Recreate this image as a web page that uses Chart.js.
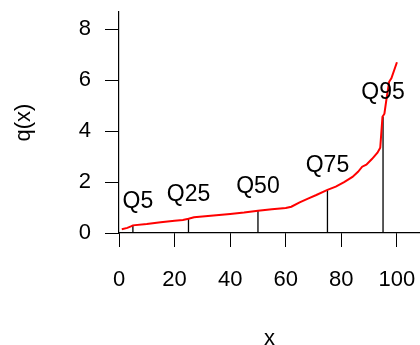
<!DOCTYPE html>
<html>
<head>
<meta charset="utf-8">
<script src="https://cdn.jsdelivr.net/npm/chart.js@4"></script>
<style>
  body { margin: 0; background: #fff; }
  #wrap { width: 420px; height: 345px; }
</style>
</head>
<body>
<div id="wrap"><canvas id="quantChart"></canvas></div>
<script>
// quantile curve q(x), x in percent
const xs = [1, 3, 4.5, 5, 10, 15, 20, 23, 25, 27, 30, 35, 40, 45, 50, 55, 60, 62, 65, 68, 71, 75, 78, 81, 84, 86, 87.5, 89, 91, 93, 94, 94.8, 95.5, 96.3, 97.2, 98, 100];
const qs = [0.15, 0.2, 0.27, 0.3, 0.35, 0.42, 0.48, 0.51, 0.56, 0.62, 0.65, 0.7, 0.75, 0.8, 0.87, 0.93, 0.98, 1.03, 1.2, 1.35, 1.49, 1.69, 1.82, 2.0, 2.2, 2.4, 2.6, 2.68, 2.9, 3.15, 3.35, 4.56, 4.68, 5.3, 5.93, 6.07, 6.7];

// marked quantiles
const quantNames = ["Q5", "Q25", "Q50", "Q75", "Q95"];
const quantX = [5, 25, 50, 75, 95];
const quantY = [0.29, 0.56, 0.88, 1.69, 4.56];
const labelX = [6.8, 25, 50, 75, 95];

const xTicks = [0, 20, 40, 60, 80, 100];
const yTicks = [0, 2, 4, 6, 8];

const font = "Liberation Sans, Arial, sans-serif";

const curve = {
  type: "line",
  data: xs.map((x, i) => ({ x: x, y: qs[i] })),
  borderColor: "#ff0000",
  borderWidth: 2,
  pointRadius: 0,
  tension: 0,
};

const stems = quantX.map((x, i) => ({
  type: "line",
  data: [{ x: x, y: 0 }, { x: x, y: quantY[i] }],
  borderColor: "#000",
  borderWidth: 1.3,
  pointRadius: 0,
}));

const quantLabels = {
  id: "quantLabels",
  afterDatasetsDraw(chart) {
    const { ctx, scales } = chart;
    ctx.save();
    ctx.fillStyle = "#000";
    ctx.font = "23px " + font;
    ctx.textAlign = "center";
    ctx.textBaseline = "middle";
    quantNames.forEach((name, i) => {
      ctx.fillText(name, scales.x.getPixelForValue(labelX[i]), scales.y.getPixelForValue(quantY[i] + 0.95));
    });
    ctx.restore();
  },
};

const axisStyle = {
  grid: { drawOnChartArea: false, drawTicks: true, tickLength: 14, color: "#000", lineWidth: 1 },
  border: { display: true, color: "#000", width: 1.2 },
};

// keep the axes at fixed sizes, no extra room for edge labels
const fixX = (scale) => { scale.height = 112; scale.paddingLeft = 0; scale.paddingRight = 0; };
const fixY = (scale) => { scale.width = 119; scale.paddingTop = 0; scale.paddingBottom = 0; };

new Chart(document.getElementById("quantChart"), {
  type: "scatter",
  data: { datasets: [curve, ...stems] },
  options: {
    responsive: true,
    maintainAspectRatio: false,
    animation: false,
    showLine: true,
    layout: { padding: { top: 12, right: 0, left: 0, bottom: 0 } },
    scales: {
      x: {
        type: "linear",
        min: 0,
        max: 108.3,
        ...axisStyle,
        afterBuildTicks: (scale) => { scale.ticks = xTicks.map((v) => ({ value: v })); },
        afterFit: fixX,
        ticks: { color: "#000", padding: 20, font: { family: font, size: 22 } },
        title: { display: true, text: "x", color: "#000", padding: { top: 0, bottom: -7 }, font: { family: font, size: 22 } },
      },
      y: {
        type: "linear",
        min: 0,
        max: 8.67,
        ...axisStyle,
        afterBuildTicks: (scale) => { scale.ticks = yTicks.map((v) => ({ value: v })); },
        afterFit: fixY,
        ticks: { color: "#000", padding: 14, font: { family: font, size: 22 } },
        title: { display: true, text: "q(x)", color: "#000", padding: { top: 11, bottom: 0 }, font: { family: font, size: 22 } },
      },
    },
    plugins: {
      legend: { display: false },
      tooltip: { enabled: false },
    },
  },
  plugins: [quantLabels],
});
</script>
</body>
</html>
